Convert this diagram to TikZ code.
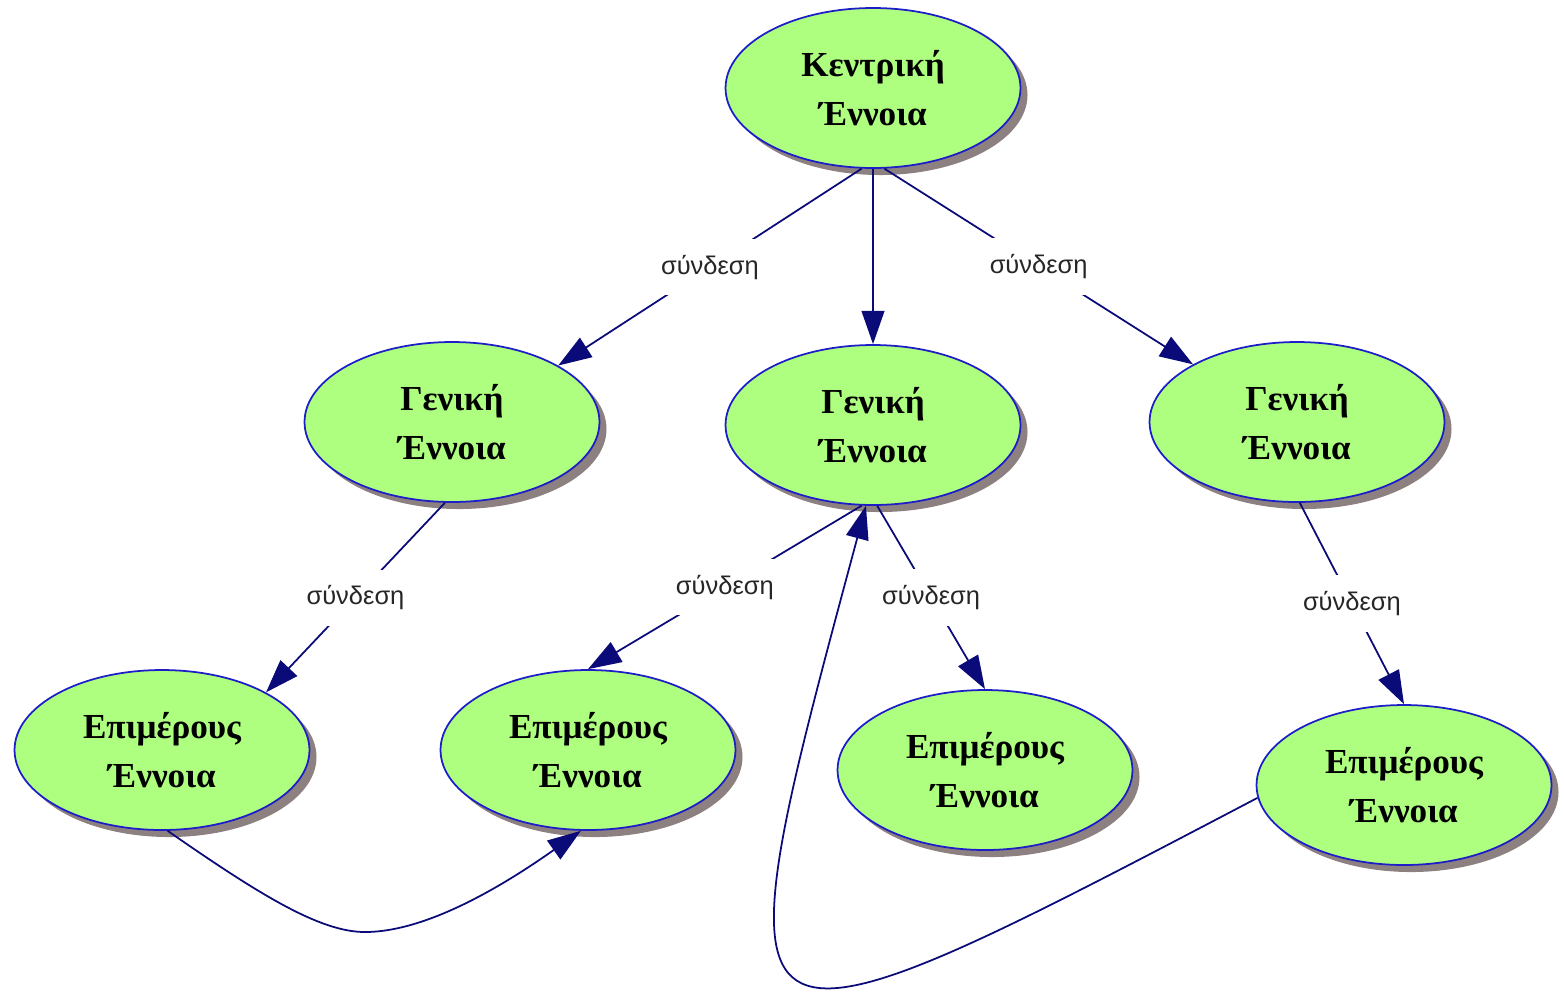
\documentclass[tikz,border=0pt]{standalone}
\usepackage{fontspec}
\setmainfont{Liberation Serif}
\newfontfamily\linkfont{Liberation Sans}
\usetikzlibrary{shapes.geometric,arrows.meta,shadows}
\definecolor{conceptfill}{RGB}{174,255,128}
\definecolor{conceptborder}{RGB}{30,30,200}
\definecolor{linkcolor}{RGB}{10,10,120}
\definecolor{shadowgray}{RGB}{140,128,128}

\begin{document}
\begin{tikzpicture}[x=0.02cm, y=-0.02cm,
  concept/.style={ellipse, draw=conceptborder, line width=1pt, fill=conceptfill,
    minimum width=5.9cm, minimum height=3.2cm, inner sep=0pt, align=center,
    font=\bfseries\fontsize{20}{28}\selectfont,
    drop shadow={shadow xshift=4pt, shadow yshift=-4pt, fill=shadowgray, opacity=1}},
  link/.style={draw=linkcolor, line width=1pt, -{Triangle[length=19pt,width=13pt]}},
  linklabel/.style={fill=white, inner xsep=2pt, inner ysep=9pt, text=black!85,
    font=\linkfont\fontsize{14.5}{16}\selectfont}]
\def\linktext{σύνδεση}
\useasboundingbox (0,0) rectangle (1564,992);

% Concepts
\node[concept] (central) at (873,88) {Κεντρική\\Έννοια};
\node[concept] (general-left) at (452,422) {Γενική\\Έννοια};
\node[concept] (general-mid) at (873,425) {Γενική\\Έννοια};
\node[concept] (general-right) at (1297,422) {Γενική\\Έννοια};
\node[concept] (part-1) at (162,750) {Επιμέρους\\Έννοια};
\node[concept] (part-2) at (588,750) {Επιμέρους\\Έννοια};
\node[concept] (part-3) at (985,770) {Επιμέρους\\Έννοια};
\node[concept] (part-4) at (1404,785) {Επιμέρους\\Έννοια};

% Links from the central concept
\draw[link] (central.-98) -- node[linklabel] {\linktext} (general-left.28);
\draw[link] (central.south) -- (general-mid.north);
\draw[link] (central.-82) -- node[linklabel] {\linktext} (general-right.151);

% Links to the partial concepts
\draw[link] (general-left.-95) -- node[linklabel] {\linktext} (part-1.29);
\draw[link] (general-mid.-98) -- node[linklabel] {\linktext} (part-2.north);
\draw[link] (general-mid.-87) -- node[linklabel] {\linktext} (part-3.north);
\draw[link] (general-right.-88) -- node[linklabel] {\linktext} (part-4.north);

% Cross links
\coordinate (loop-low) at (365,932);
\draw[link] (part-1.-86) .. controls (260,895) and (320,932) .. (loop-low)
  .. controls (420,932) and (490,895) .. (part-2.-95);
\draw[link] (part-4.-175) .. controls (710,1085) and (710,1085) .. (general-mid.-95);

\end{tikzpicture}
\end{document}
